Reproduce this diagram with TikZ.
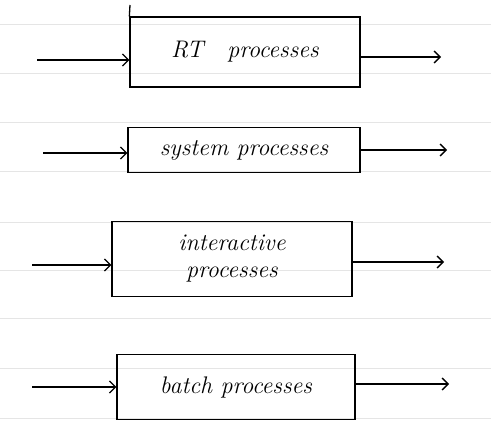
\documentclass[tikz,border=0pt]{standalone}
\usetikzlibrary{arrows.meta}
\begin{document}
\begin{tikzpicture}[x=1pt,y=-1pt,
  procbox/.style={draw,line width=1.3pt,inner sep=0pt,font=\fontsize{24}{27}\selectfont\itshape,align=center},
  flow/.style={line width=1.3pt,-{Straight Barb[length=6pt,width=12pt,line width=1.3pt]}},
  rule/.style={draw=black!10,line width=0.5pt}]
\useasboundingbox (0,0) rectangle (491,431);
\foreach \y in {24,73,122,171,222,270,318,368,418}
  \draw[rule] (0,\y) -- (491,\y);
% boxes
\node[procbox,minimum width=230pt,minimum height=70pt] (rt) at (245,52) {RT\quad processes};
\node[procbox,minimum width=232pt,minimum height=45pt] (sys) at (244,150) {system processes};
\node[procbox,minimum width=240pt,minimum height=75pt] (int) at (232,259) {interactive\\processes};
\node[procbox,minimum width=238pt,minimum height=65pt] (bat) at (236,387) {batch processes};
% extra stroke of the RT box's left side
\coordinate (rtTop) at (130,5);
\draw[line width=1.3pt] (rtTop) -- (rt.north west);
% inputs
\coordinate (i1) at (37,60);
\coordinate (i2) at (43,153);
\coordinate (i3) at (32,265);
\coordinate (i4) at (32,387);
\draw[flow] (i1) -- (i1 -| rt.west);
\draw[flow] (i2) -- (i2 -| sys.west);
\draw[flow] (i3) -- (i3 -| int.west);
\draw[flow] (i4) -- (i4 -| bat.west);
% outputs
\coordinate (o1) at (441,57);
\coordinate (o2) at (447,150);
\coordinate (o3) at (444,262);
\coordinate (o4) at (449,384);
\draw[flow] (o1 -| rt.east) -- (o1);
\draw[flow] (o2 -| sys.east) -- (o2);
\draw[flow] (o3 -| int.east) -- (o3);
\draw[flow] (o4 -| bat.east) -- (o4);
\end{tikzpicture}
\end{document}
